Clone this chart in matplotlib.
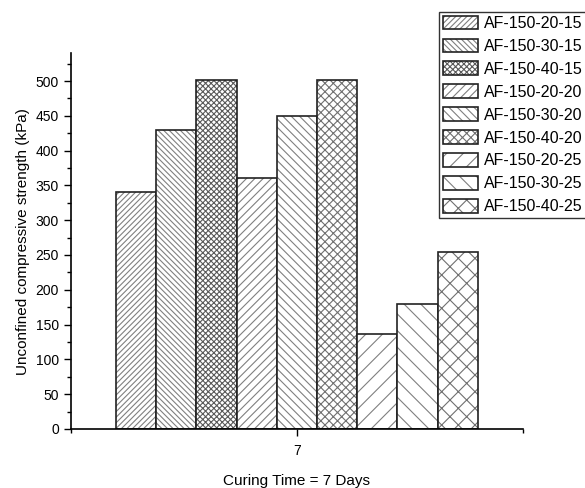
import numpy as np
import matplotlib
matplotlib.use("Agg")
import matplotlib.pyplot as plt
from matplotlib.ticker import MultipleLocator
from matplotlib.patches import Patch

plt.rcParams['font.family'] = ['Liberation Sans', 'DejaVu Sans']
plt.rcParams['hatch.linewidth'] = 0.8

# data
mixes = ['AF-150-20-15', 'AF-150-30-15', 'AF-150-40-15',
         'AF-150-20-20', 'AF-150-30-20', 'AF-150-40-20',
         'AF-150-20-25', 'AF-150-30-25', 'AF-150-40-25']
ucs_7day = [340, 430, 502, 360, 450, 502, 136, 180, 255]
curing_days = 7

hatches = ['//////', '\\\\\\\\\\\\', 'xxxxxx',
           '////', '\\\\\\\\', 'xxxx',
           '//', '\\\\', 'xx']
hatch_cols = ['#808080', '#808080', '#5a5a5a',
              '#808080', '#808080', '#707070',
              '#808080', '#808080', '#707070']
edge_col = '#222222'


def main():
    fig = plt.figure(figsize=(5.85, 4.88), dpi=100)
    ax = fig.add_axes([0.121, 0.121, 0.773, 0.770])

    n = len(mixes)
    width = 0.8 / n
    offsets = (np.arange(n) - (n - 1) / 2) * width
    handles = []
    for i in range(n):
        # hatch in grey, then a dark outline on top
        ax.bar(curing_days + offsets[i], ucs_7day[i], width, color='white',
               edgecolor=hatch_cols[i], linewidth=0, hatch=hatches[i])
        ax.bar(curing_days + offsets[i], ucs_7day[i], width, fill=False,
               edgecolor=edge_col, linewidth=1.2)
        handles.append((Patch(facecolor='white', edgecolor=hatch_cols[i], linewidth=0, hatch=hatches[i]),
                        Patch(fill=False, edgecolor=edge_col, linewidth=1.2)))

    ax.set_xlim(curing_days - 0.5, curing_days + 0.5)
    ax.set_ylim(0, 540)
    ax.set_xticks([curing_days])
    ax.set_xticks([curing_days - 0.5, curing_days + 0.5], minor=True)
    ax.yaxis.set_major_locator(MultipleLocator(50))
    ax.yaxis.set_minor_locator(MultipleLocator(25))
    ax.tick_params(axis='both', which='major', labelsize=10, length=5, width=1)
    ax.tick_params(axis='x', which='major', pad=6)
    ax.tick_params(axis='both', which='minor', length=3, width=1)
    ax.spines['top'].set_visible(False)
    ax.spines['right'].set_visible(False)
    for s in ['left', 'bottom']:
        ax.spines[s].set_linewidth(1.2)

    ax.set_ylabel('Unconfined compressive strength (kPa)', fontsize=11)
    ax.set_xlabel('Curing Time = 7 Days', fontsize=11, labelpad=11)

    leg = ax.legend(handles, mixes, loc='upper left', bbox_to_anchor=(0.750, 0.976),
                    bbox_transform=fig.transFigure, fontsize=11.5, frameon=True,
                    fancybox=False, borderaxespad=0, borderpad=0.25,
                    handlelength=2.2, handleheight=0.95, handletextpad=0.35,
                    labelspacing=0.47)
    leg.get_frame().set_edgecolor('black')
    leg.get_frame().set_linewidth(1.0)

    fig.savefig('out.png', dpi=100)


if __name__ == "__main__":
    main()
